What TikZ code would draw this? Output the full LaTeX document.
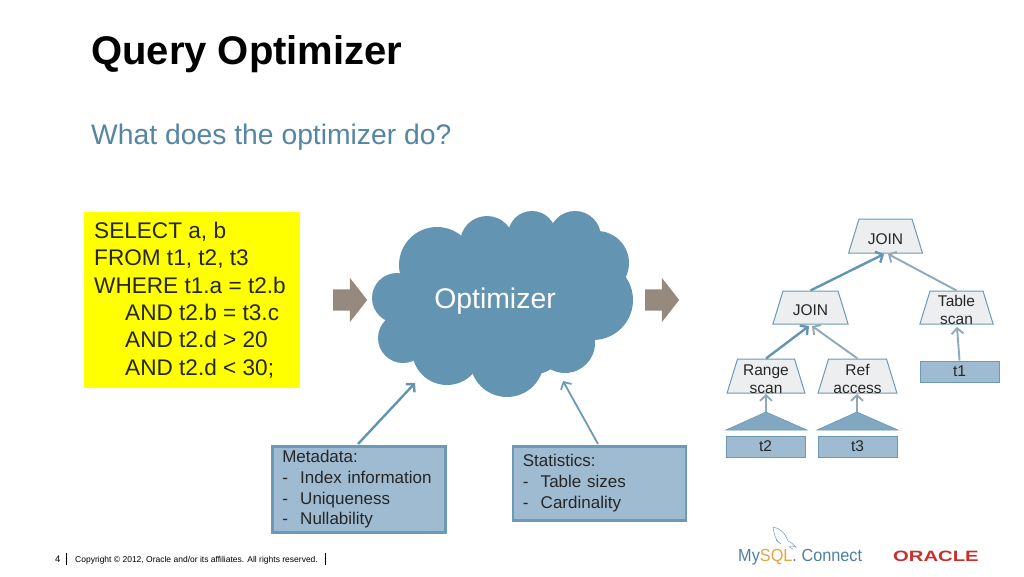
\documentclass[tikz,border=0pt]{standalone}
\usepackage{fontspec}
\setmainfont{Liberation Sans}
\usetikzlibrary{shapes.geometric,shapes.arrows,arrows.meta}
\definecolor{cloudblue}{HTML}{6395B3}
\definecolor{boxblue}{HTML}{9FBBD1}
\definecolor{edgeblue}{HTML}{6C9AB6}
\definecolor{linegrey}{HTML}{8FA9B9}
\definecolor{opgrey}{HTML}{EDEEEF}
\definecolor{arrowbrown}{HTML}{958A7D}
\definecolor{subblue}{HTML}{5585A5}
\definecolor{logoblue}{HTML}{4F7F9F}
\definecolor{logoorange}{HTML}{E5A33F}
\definecolor{logored}{HTML}{C9302C}
\definecolor{queryyellow}{RGB}{255,255,0}
\definecolor{bodytext}{HTML}{262626}
\tikzset{
	>={Straight Barb[length=5.5pt,width=12pt]},
	opnode/.style={draw=edgeblue, fill=opgrey, line width=1pt, trapezium, trapezium left angle=73, trapezium right angle=73, inner sep=0pt},
	oplabel/.style={inner sep=0pt, align=center, yshift=-3pt, text=bodytext, font=\fontsize{15.5}{18}\selectfont},
	tablebox/.style={draw=edgeblue, fill=boxblue, line width=1pt, inner sep=0pt, text depth=-1pt, text=bodytext, font=\fontsize{15.5}{18}\selectfont},
	notebox/.style={draw=edgeblue, fill=boxblue, line width=2.5pt, inner sep=0pt, text width=153pt, align=left, text=bodytext, font=\fontsize{17}{20.8}\selectfont},
	bigarrow/.style={fill=arrowbrown, single arrow, single arrow head extend=11.5pt, single arrow tip angle=104, minimum height=34pt, inner sep=0pt},
	thickflow/.style={->, draw=cloudblue, line width=2.4pt},
	thinflow/.style={->, draw=linegrey, line width=1.9pt},
	plain/.style={inner sep=0pt, anchor=base west}
}
\newcommand{\dashitem}[1]{\makebox[18pt][l]{-}#1}
\newcommand{\opsize}[2]{\hspace*{#1}\rule{0pt}{#2}}
\begin{document}
\begin{tikzpicture}[x=1pt, y=-1pt]
	\useasboundingbox (0,0) rectangle (1024,576);
	\node[plain, font=\fontsize{40}{44}\bfseries\selectfont] (title) at (91,64) {Query Optimizer};
	\node[plain, font=\fontsize{28.3}{32}\selectfont, text=subblue] (subtitle) at (91,144) {What does the optimizer do?};

	\node[fill=queryyellow, minimum width=216pt, minimum height=176pt, inner sep=0pt] (query) at (192,300) {};
	\node[inner sep=0pt, anchor=west, align=left, text=bodytext, font=\fontsize{22.6}{27.3}\selectfont] (querytext) at (94,300) {SELECT a, b\\FROM t1, t2, t3\\WHERE t1.a = t2.b\\\hspace*{31pt}AND t2.b = t3.c\\\hspace*{31pt}AND t2.d > 20\\\hspace*{31pt}AND t2.d < 30;};
	\node[bigarrow] (inarrow) at (346,300) {\rule{0pt}{21pt}};
	\node[bigarrow] (outarrow) at (658,300) {\rule{0pt}{21pt}};

	\foreach \cx/\cy/\cr in {437/265/38, 487/243/27, 532/235/24, 575/237/26, 597/263/32, 593/300/40, 565/343/30, 507/360/37, 447/350/35, 403/338/25, 397/298/25, 500/300/70, 440/305/40, 555/285/45, 530/335/40, 540/262/30}
		\fill[cloudblue] (\cx,\cy) circle (\cr);
	\node[text=white, font=\fontsize{28.4}{32}\selectfont, inner sep=0pt] (optimizer) at (495,301) {Optimizer};

	\node[notebox, minimum width=173pt, minimum height=86pt, anchor=north west] (metadata) at (271,445) {Metadata:\\\dashitem{Index information}\\\dashitem{Uniqueness}\\\dashitem{Nullability}};
	\node[notebox, minimum width=173pt, minimum height=74pt, anchor=north west] (statistics) at (511.5,445) {Statistics:\\\dashitem{Table sizes}\\\dashitem{Cardinality}};
	\coordinate (metaend) at (415,383);
	\coordinate (statend) at (563,381);
	\draw[thickflow] (358,444) -- (metaend);
	\draw[->, draw=edgeblue, line width=1.8pt] (598,444) -- (statend);

	\node[opnode, label={[oplabel, name=topjointext]center:JOIN}] (topjoin) at (885.5,236) {\opsize{53pt}{34pt}};
	\node[opnode, label={[oplabel, name=lowjointext]center:JOIN}] (lowjoin) at (810.5,307.5) {\opsize{55pt}{33pt}};
	\node[opnode, label={[oplabel, name=tablescantext, yshift=1pt]center:{Table\\scan}}] (tablescan) at (956.5,307.5) {\opsize{53pt}{33pt}};
	\node[opnode, label={[oplabel, name=rangescantext]center:{Range\\scan}}] (rangescan) at (766,376) {\opsize{57pt}{34pt}};
	\node[opnode, label={[oplabel, name=refaccesstext]center:{Ref\\access}}] (refaccess) at (857.5,376) {\opsize{58pt}{34pt}};
	\node[tablebox, minimum width=79pt, minimum height=21pt] (tone) at (959.5,371.5) {t1};
	\node[tablebox, minimum width=79pt, minimum height=21pt] (ttwo) at (765.5,446.5) {t2};
	\node[tablebox, minimum width=79pt, minimum height=21pt] (tthree) at (857.5,446.5) {t3};
	\fill[edgeblue!60!boxblue, draw=edgeblue, line width=.6pt] (726,430) -- (766,412) coordinate (rangeidx) -- (807,430) -- cycle;
	\fill[edgeblue!60!boxblue, draw=edgeblue, line width=.6pt] (817,430) -- (857,412) coordinate (refidx) -- (898,430) -- cycle;

	\draw[thickflow] (lowjoin.north) -- (884,254);
	\draw[thinflow] (tablescan.north) -- (888,254);
	\draw[thickflow] (rangescan.north) -- (809,326);
	\draw[thinflow] (refaccess.north) -- (812,326);
	\draw[thinflow] (tone.north) -- (957,327);
	\draw[thinflow] (rangeidx) -- (766,394);
	\draw[thinflow] (refidx) -- (857,394);

	\node[plain, font=\fontsize{9.5}{11}\selectfont] (pagenum) at (55,562) {4};
	\node[plain, font=\fontsize{8.5}{11}\selectfont] (copyright) at (75,562) {Copyright © 2012, Oracle and/or its affiliates. All rights reserved.};
	\draw[line width=1pt] (66,553) -- (66,565) (325,553) -- (325,565);

	\draw[edgeblue, line width=.5pt] (773,527) .. controls (780,528) and (785,533) .. (788,541) .. controls (791,543) and (794,544) .. (796,547) .. controls (790,545) and (786,546) .. (793,549) (773,527) .. controls (774,535) and (776,541) .. (781,544) (781,544) -- (776,540);
	\node[plain, font=\fontsize{17.5}{20}\selectfont, text=logoblue] (mysql) at (738,561) {\scalebox{.93}[1]{My\textcolor{logoorange}{SQL}. Connect}};
	\node[plain, font=\fontsize{15}{18}\bfseries\selectfont, text=logored] (oracle) at (893,561) {\scalebox{1.35}[1]{ORACLE}};
\end{tikzpicture}
\end{document}
